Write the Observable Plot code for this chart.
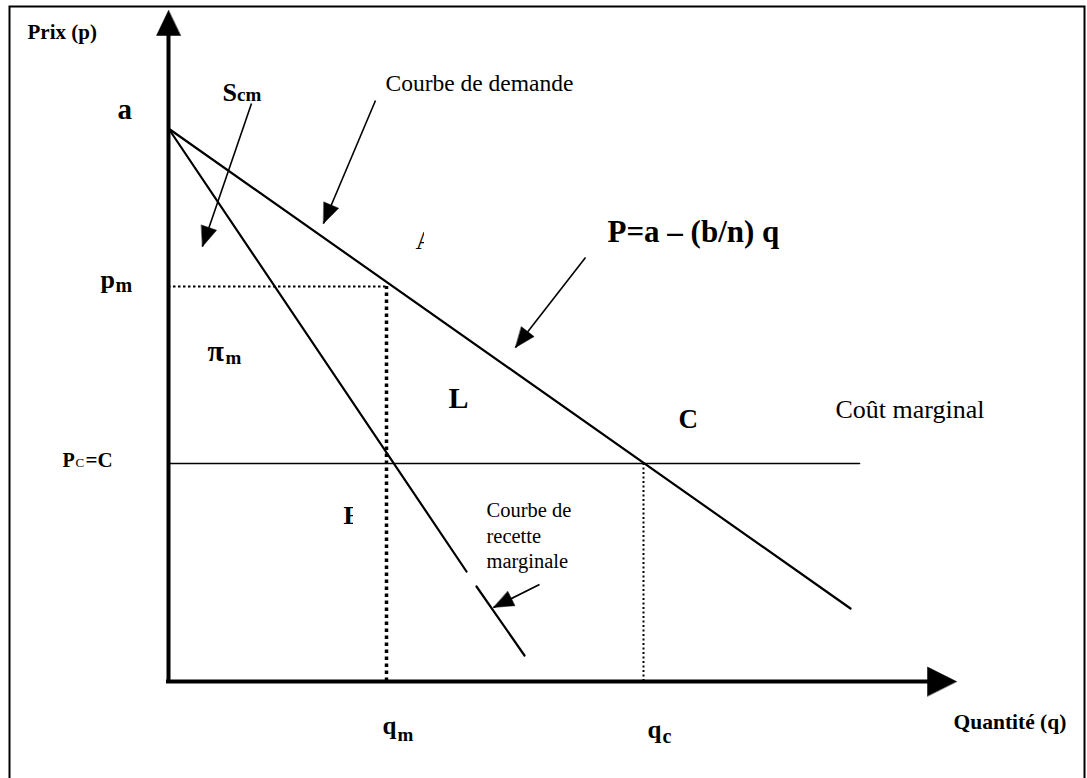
<!DOCTYPE html>
<html><head><meta charset="utf-8">
<script src="https://cdn.jsdelivr.net/npm/d3@7"></script>
<script src="https://cdn.jsdelivr.net/npm/@observablehq/plot@0.6"></script>
<style>html,body{margin:0;padding:0;background:#fff;} #chart{width:1087px;height:778px;}</style>
</head><body><div id="chart"></div>
<script>
// ---- data (quantity q, price p, arbitrary units) ----
const demandCurve = [{q: 0, p: 55.3}, {q: 68.2, p: 7.3}];
const marginalRevenueCurve = [
  {seg: 1, q: 0, p: 55.3}, {seg: 1, q: 29.8, p: 11.0},
  {seg: 2, q: 30.8, p: 9.5}, {seg: 2, q: 35.6, p: 2.6}
];
const marginalCostCurve = [{q: 0, p: 21.8}, {q: 69.1, p: 21.8}];
const monopolyPoint = [{q: 21.8, p: 39.5}];
const competitivePoint = [{q: 47.5, p: 21.8}];
const axisTips = [{id: "p", q: 0, p: 67.1}, {id: "q", q: 78.8, p: 0}];
const pointerArrows = [
  {id: "scm", q1: 8.3, p1: 57.8, q2: 3.4, p2: 43.5},
  {id: "dem", q1: 20.7, p1: 58.1, q2: 15.5, p2: 45.8},
  {id: "eq", q1: 41.7, p1: 42.4, q2: 34.7, p2: 33.4},
  {id: "mr", q1: 37.1, p1: 9.7, q2: 32.5, p2: 7.4}
];
const boldLabels = [
  {id: "prix", text: "Prix (p)", q: -14.1, p: 64.3},
  {id: "a", text: "a", q: -5.1, p: 56.3},
  {id: "S", text: "S", q: 5.4, p: 58.1},
  {id: "cm", text: "cm", q: 6.85, p: 58.1},
  {id: "eqn", text: "P=a – (b/n) q", q: 43.9, p: 44.0},
  {id: "p_m", text: "p", q: -6.8, p: 39.4},
  {id: "p_m_sub", text: "m", q: -5.3, p: 39.0},
  {id: "pi", text: "π", q: 3.9, p: 32.1},
  {id: "pi_sub", text: "m", q: 5.7, p: 31.8},
  {id: "L", text: "L", q: 28.0, p: 27.4},
  {id: "C", text: "C", q: 51.0, p: 25.4},
  {id: "P_c", text: "P", q: -10.6, p: 21.5},
  {id: "eqC", text: "=C", q: -8.3, p: 21.5},
  {id: "E", text: "E", q: 17.5, p: 15.8},
  {id: "q_m", text: "q", q: 21.4, p: -5.2},
  {id: "q_m_sub", text: "m", q: 22.9, p: -5.9},
  {id: "q_c", text: "q", q: 47.9, p: -5.6},
  {id: "q_c_sub", text: "c", q: 49.4, p: -6.1},
  {id: "quant", text: "Quantité (q)", q: 78.5, p: -4.7}
];
const regularLabels = [
  {id: "dem", text: "Courbe de demande", q: 21.7, p: 59.1},
  {id: "A", text: "A", q: 24.7, p: 43.3},
  {id: "cmg", text: "Coût marginal", q: 66.7, p: 26.4},
  {id: "Csmall", text: "C", q: -9.3, p: 21.5},
  {id: "mr", text: "Courbe de\nrecette\nmarginale", q: 31.8, p: 11.4}
];
const coverBoxes = [
  {q1: 25.6, q2: 27.0, p1: 42.9, p2: 46.0},
  {q1: 18.5, q2: 19.7, p1: 15.3, p2: 18.2}
];

// ---- styles ----
const fontSizes = {prix: 21, a: 29, S: 26, cm: 19, eqn: 31, p_m: 26, p_m_sub: 20, pi: 30, pi_sub: 19,
  L: 30, C: 27, P_c: 20, eqC: 21, E: 26, q_m: 25, q_m_sub: 19, q_c: 25, q_c_sub: 20, quant: 21.5,
  dem: 23.5, A: 26, cmg: 26, Csmall: 13, mr: 20.5};
const serif = "Liberation Serif, Times New Roman, serif";

function head(id, tipQ, tipP, fromQ, fromP, len, hw) {
  const dx = tipQ - fromQ, dy = tipP - fromP, L = Math.hypot(dx, dy);
  const ux = dx / L, uy = dy / L, bx = tipQ - ux * len, by = tipP - uy * len;
  return [{id, q: tipQ, p: tipP}, {id, q: bx - uy * hw, p: by + ux * hw}, {id, q: bx + uy * hw, p: by - ux * hw}];
}
const heads = [];
pointerArrows.forEach(d => heads.push(...head(d.id, d.q2, d.p2, d.q1, d.p1, 2.0, 0.8)));
const pTip = axisTips.find(d => d.id === "p"), qTip = axisTips.find(d => d.id === "q");
heads.push(...head("axisP", pTip.q, pTip.p, pTip.q, 0, 2.5, 1.2));
heads.push(...head("axisQ", qTip.q, qTip.p, 0, qTip.p, 2.9, 1.45));

const qm = monopolyPoint[0].q, pm = monopolyPoint[0].p;
const qc = competitivePoint[0].q, pc = competitivePoint[0].p;

const chart = Plot.plot({
  width: 1087, height: 778, margin: 0,
  x: {type: "linear", domain: [0, 100], range: [168, 1168], axis: null},
  y: {type: "linear", domain: [0, 100], range: [681, -319], axis: null},
  style: {background: "white", fontFamily: serif, overflow: "hidden"},
  marks: [
    Plot.frame({stroke: "black", strokeWidth: 2, insetLeft: 9, insetTop: 6, insetRight: 3, insetBottom: -4}),
    // dotted guides
    Plot.ruleY([pm], {x1: 0, x2: qm, stroke: "black", strokeWidth: 2, strokeDasharray: "2.5,2.5"}),
    Plot.ruleX([qm], {y1: 0, y2: pm, stroke: "black", strokeWidth: 3.5, strokeDasharray: "3.5,3.5"}),
    Plot.ruleX([qc], {y1: 0, y2: pc, stroke: "black", strokeWidth: 2, strokeDasharray: "2,2.5"}),
    // curves
    Plot.line(marginalCostCurve, {x: "q", y: "p", stroke: "black", strokeWidth: 1.6}),
    Plot.line(demandCurve, {x: "q", y: "p", stroke: "black", strokeWidth: 2.2}),
    Plot.line(marginalRevenueCurve, {x: "q", y: "p", z: "seg", stroke: "black", strokeWidth: 2.2}),
    // axes
    Plot.ruleX([0], {y1: -0.2, y2: pTip.p - 2.4, stroke: "black", strokeWidth: 4}),
    Plot.ruleY([0], {x1: -0.2, x2: qTip.q - 2.8, stroke: "black", strokeWidth: 4}),
    // pointer arrows
    Plot.link(pointerArrows, {x1: "q1", y1: "p1", x2: "q2", y2: "p2", stroke: "black", strokeWidth: 1.6}),
    Plot.line(heads, {x: "q", y: "p", z: "id", fill: "black", stroke: "black", strokeWidth: 0.5, curve: "linear-closed"}),
    // labels
    Plot.text(regularLabels, {x: "q", y: "p", text: "text", fontSize: d => fontSizes[d.id], textAnchor: "start",
      lineAnchor: "bottom", lineHeight: 1.22, fontFamily: serif, fill: "black"}),
    Plot.text(boldLabels, {x: "q", y: "p", text: "text", fontSize: d => fontSizes[d.id], textAnchor: "start",
      lineAnchor: "bottom", fontWeight: "bold", fontFamily: serif, fill: "black"}),
    Plot.rect(coverBoxes, {x1: "q1", x2: "q2", y1: "p1", y2: "p2", fill: "white"})
  ]
});
document.getElementById("chart").appendChild(chart);
</script>
</body></html>
